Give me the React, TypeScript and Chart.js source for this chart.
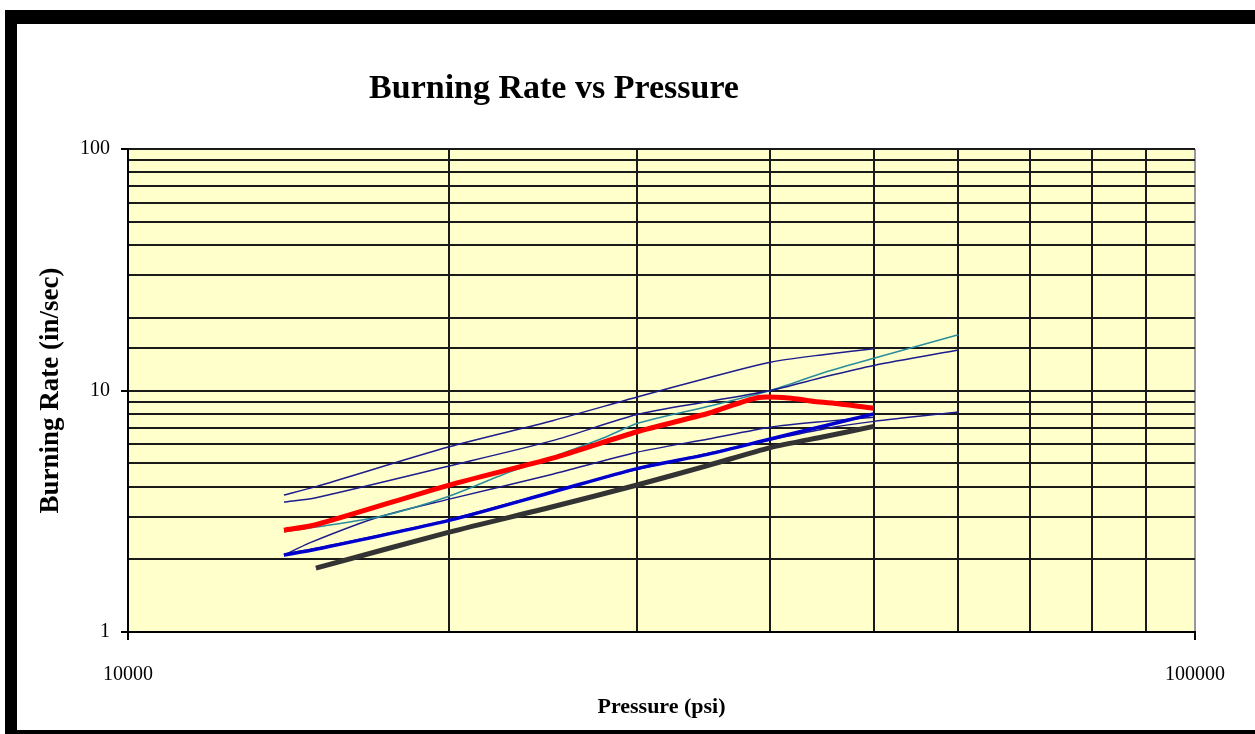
import React, { useEffect, useRef } from 'react';
import { Chart, registerables } from 'chart.js';

Chart.register(...registerables);

const chartTitle = 'Burning Rate vs Pressure';
const xAxisTitle = 'Pressure (psi)';
const yAxisTitle = 'Burning Rate (in/sec)';
const xTickLabels = [10000, 100000];
const yTickLabels = [1, 10, 100];
const xGridValues = [10000, 20000, 30000, 40000, 50000, 60000, 70000, 80000, 90000, 100000];

const redP = [14000, 15000, 20000, 25000, 30000, 35000, 39000, 42000, 44000, 46500, 50000];
const redV = [2.64, 2.78, 4.06, 5.25, 6.75, 8.05, 9.35, 9.27, 9.0, 8.8, 8.45];

const blackP = [15000, 20000, 25000, 30000, 35000, 40000, 45000, 50000];
const blackV = [1.84, 2.59, 3.3, 4.06, 4.9, 5.8, 6.45, 7.1];

const blueP = [14000, 15000, 20000, 25000, 30000, 35000, 40000, 45000, 50000];
const blueV = [2.08, 2.2, 2.9, 3.8, 4.75, 5.45, 6.3, 7.15, 8.0];

const lineAP = [14000, 15000, 20000, 25000, 30000, 35000, 40000, 45000, 50000];
const lineAV = [3.69, 4.0, 5.85, 7.5, 9.4, 11.3, 13.1, 14.1, 14.9];

const lineBP = [14000, 15000, 20000, 25000, 30000, 35000, 40000, 45000, 50000, 60000];
const lineBV = [3.45, 3.6, 4.87, 6.2, 7.95, 9.0, 10.0, 11.4, 12.7, 14.7];

const tealP = [14000, 15000, 17200, 20000, 22500, 25000, 28000, 30000, 35000, 40000, 45000, 50000, 60000];
const tealV = [2.6, 2.72, 3.0, 3.65, 4.5, 5.3, 6.4, 7.3, 8.6, 10.0, 11.9, 13.6, 17.0];

const lineCP = [14000, 14800, 17200, 20000, 25000, 30000, 35000, 40000, 45000, 50000];
const lineCV = [2.08, 2.34, 3.0, 3.55, 4.5, 5.55, 6.3, 7.05, 7.45, 7.75];

const lineEP = [14000, 15000, 20000, 25000, 30000, 35000, 40000, 45000, 50000, 60000];
const lineEV = [2.1, 2.22, 2.92, 3.82, 4.72, 5.5, 6.25, 6.95, 7.45, 8.15];

const pts = (p: number[], v: number[]) => p.map((x, i) => ({ x, y: v[i] }));

const isPow10 = (v: number) => {
  const l = Math.log10(v);
  return Math.abs(l - Math.round(l)) < 1e-9;
};

const SERIF = '"Liberation Serif", "Times New Roman", serif';

export default function App() {
  const ref = useRef<HTMLCanvasElement | null>(null);

  useEffect(() => {
    if (!ref.current) return;
    const bgPlugin = {
      id: 'plotBg',
      beforeDraw(chart: any) {
        const { ctx, chartArea } = chart;
        ctx.save();
        ctx.fillStyle = '#FFFFCC';
        ctx.fillRect(chartArea.left, chartArea.top, chartArea.right - chartArea.left, chartArea.bottom - chartArea.top);
        ctx.restore();
      },
    };
    const titlePlugin = {
      id: 'customTitle',
      afterDraw(chart: any) {
        const { ctx } = chart;
        ctx.save();
        ctx.font = `bold 34px ${SERIF}`;
        ctx.fillStyle = '#000';
        ctx.textAlign = 'center';
        ctx.textBaseline = 'alphabetic';
        ctx.fillText(chartTitle, 537, 74);
        ctx.restore();
      },
    };
    const thin = '#1c1c8c';
    const line = (data: any, color: string, width: number) => ({
      data,
      borderColor: color,
      backgroundColor: color,
      borderWidth: width,
      pointRadius: 0,
      tension: 0.25,
      fill: false,
    });
    const chart = new Chart(ref.current, {
      type: 'line',
      data: {
        datasets: [
          line(pts(redP, redV), '#FF0000', 5),
          line(pts(blackP, blackV), '#333333', 5),
          line(pts(blueP, blueV), '#0000CC', 3.5),
          line(pts(lineAP, lineAV), thin, 1.5),
          line(pts(lineBP, lineBV), thin, 1.5),
          line(pts(tealP, tealV), '#2a8c9c', 1.5),
          line(pts(lineCP, lineCV), thin, 1.5),
          line(pts(lineEP, lineEV), thin, 1.5),
        ],
      },
      options: {
        animation: false,
        responsive: false,
        devicePixelRatio: 1,
        layout: { padding: { left: 0, top: 125, right: 60, bottom: 0 } },
        plugins: { legend: { display: false }, tooltip: { enabled: false }, title: { display: false } },
        scales: {
          x: {
            type: 'logarithmic',
            min: 10000,
            max: 100000,
            afterBuildTicks: (s: any) => { s.ticks = xGridValues.map((value) => ({ value, major: isPow10(value) })); },
            afterFit: (s: any) => { s.height = 98; },
            grid: {
              color: (c: any) => (c.tick && c.tick.value === 100000 ? '#999' : '#1a1a1a'),
              lineWidth: 2,
              tickLength: 8,
              tickColor: (c: any) => (c.tick && isPow10(c.tick.value) ? '#000' : 'rgba(0,0,0,0)'),
            },
            border: { display: true, color: '#000', width: 2 },
            ticks: {
              autoSkip: false,
              maxRotation: 0,
              padding: 23,
              color: '#000',
              font: { family: SERIF, size: 20 },
              callback: (v: any) => (xTickLabels.includes(Number(v)) ? String(v) : ''),
            },
            title: {
              display: true,
              text: xAxisTitle,
              color: '#000',
              font: { family: SERIF, size: 22, weight: 'bold' },
              padding: { top: 0, bottom: 9 },
            },
          },
          y: {
            type: 'logarithmic',
            min: 1,
            max: 100,
            afterFit: (s: any) => { s.width = 111; },
            grid: {
              color: '#1a1a1a',
              lineWidth: 2,
              tickLength: 7,
              tickColor: (c: any) => (c.tick && isPow10(c.tick.value) ? '#000' : 'rgba(0,0,0,0)'),
            },
            border: { display: true, color: '#000', width: 2 },
            ticks: {
              autoSkip: false,
              padding: 11,
              color: '#000',
              font: { family: SERIF, size: 20 },
              callback: (v: any) => (yTickLabels.includes(Number(v)) ? String(v) : ''),
            },
            title: {
              display: true,
              text: yAxisTitle,
              color: '#000',
              font: { family: SERIF, size: 27, weight: 'bold' },
              padding: { top: 18, bottom: 0 },
            },
          },
        },
      },
      plugins: [bgPlugin, titlePlugin],
    } as any);
    return () => chart.destroy();
  }, []);

  return (
    <div style={{ position: 'absolute', left: 0, top: 0, width: 1255, height: 734, background: '#fff', overflow: 'hidden' }}>
      <div style={{ position: 'absolute', left: 5, top: 10, width: 1250, height: 724, background: '#000' }} />
      <div style={{ position: 'absolute', left: 17, top: 24, width: 1238, height: 706, background: '#fff' }}>
        <canvas ref={ref} width={1238} height={706} style={{ display: 'block', width: 1238, height: 706 }} />
      </div>
    </div>
  );
}
